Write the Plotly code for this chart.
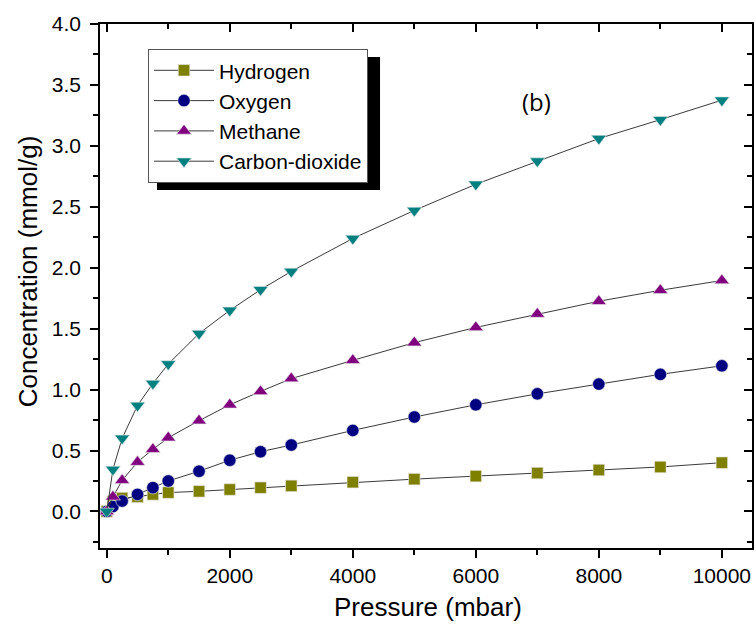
import plotly.graph_objects as go

pressure = [0, 100, 250, 500, 750, 1000, 1500, 2000, 2500, 3000, 4000, 5000, 6000, 7000, 8000, 9000, 10000]
hydrogen = [0.0, 0.08, 0.11, 0.12, 0.14, 0.155, 0.165, 0.18, 0.195, 0.21, 0.24, 0.265, 0.29, 0.315, 0.34, 0.365, 0.40]
oxygen = [0.0, 0.04, 0.085, 0.14, 0.195, 0.25, 0.33, 0.42, 0.49, 0.545, 0.665, 0.775, 0.875, 0.965, 1.045, 1.125, 1.195]
methane = [0.0, 0.12, 0.255, 0.405, 0.51, 0.605, 0.745, 0.875, 0.985, 1.09, 1.24, 1.385, 1.51, 1.62, 1.725, 1.815, 1.895]
co2 = [0.0, 0.345, 0.6, 0.87, 1.05, 1.21, 1.46, 1.65, 1.82, 1.97, 2.24, 2.47, 2.685, 2.875, 3.06, 3.215, 3.375]

series = [
    ("Hydrogen", hydrogen, "square", "#808000", 11.5),
    ("Oxygen", oxygen, "circle", "#000080", 12.5),
    ("Methane", methane, "triangle-up", "#800080", 13),
    ("Carbon-dioxide", co2, "triangle-down", "#008080", 13),
]

FONT = "Liberation Sans, Arial, sans-serif"
X_RANGE = [-110, 10490]
Y_RANGE = [-0.3, 4.0]

fig = go.Figure()
for name, vals, sym, col, sz in series:
    fig.add_trace(go.Scatter(
        x=pressure, y=vals, name=name, mode="lines+markers",
        line=dict(color="#3a3a3a", width=1),
        marker=dict(symbol=sym, color=col, size=sz,
                    line=dict(color="rgba(230,230,230,0.8)", width=0.8)),
    ))

# transparent copy on the mirrored axes so the inward-tick frame renders
fig.add_trace(go.Scatter(x=pressure, y=co2, xaxis="x2", yaxis="y2", mode="markers",
                         marker=dict(opacity=0), showlegend=False, hoverinfo="skip"))

axis_common = dict(showline=True, linecolor="black", linewidth=1.5, automargin=False,
                   showgrid=False, zeroline=False, tickcolor="black", tickwidth=1.5)

fig.update_layout(
    width=756, height=633,
    margin=dict(l=100, r=4, t=24, b=85),
    paper_bgcolor="white", plot_bgcolor="white",
    font=dict(family=FONT, color="black"),
    xaxis=dict(range=X_RANGE, dtick=2000, tick0=0, ticks="outside", ticklen=8,
               tickformat="d", exponentformat="none",
               minor=dict(dtick=1000, tick0=0, ticks="outside", ticklen=5,
                          tickcolor="black", tickwidth=1.5),
               tickfont=dict(size=21, family=FONT),
               **axis_common),
    yaxis=dict(range=Y_RANGE, dtick=0.5, tick0=0, ticks="outside", ticklen=8,
               tickformat=".1f", ticklabelstandoff=5,
               minor=dict(dtick=0.25, tick0=0, ticks="outside", ticklen=5,
                          tickcolor="black", tickwidth=1.5),
               tickfont=dict(size=21, family=FONT),
               **axis_common),
    xaxis2=dict(range=X_RANGE, overlaying="x", side="top",
                dtick=2000, tick0=0, ticks="inside", ticklen=8, showticklabels=False,
                minor=dict(dtick=1000, tick0=0, ticks="inside", ticklen=5,
                           tickcolor="black", tickwidth=1.5),
                **axis_common),
    yaxis2=dict(range=Y_RANGE, overlaying="y", side="right",
                dtick=0.5, tick0=0, ticks="inside", ticklen=8, showticklabels=False,
                minor=dict(dtick=0.25, tick0=0, ticks="inside", ticklen=5,
                           tickcolor="black", tickwidth=1.5),
                **axis_common),
    legend=dict(x=0.0736, y=0.952, xanchor="left", yanchor="top",
                bgcolor="white", bordercolor="#555", borderwidth=1,
                font=dict(size=21, family=FONT), itemwidth=60,
                tracegroupgap=0),
    showlegend=True,
)

# legend drop shadow
fig.add_shape(type="rect", xref="paper", yref="paper",
              x0=0.0874, x1=0.4295, y0=0.683, y1=0.937,
              fillcolor="black", line=dict(width=0), layer="above")

fig.add_annotation(text="(b)", xref="paper", yref="paper", x=0.669, y=0.853,
                   xanchor="center", yanchor="middle",
                   showarrow=False, font=dict(size=24, family="Open Sans, sans-serif"))
fig.add_annotation(text="Pressure (mbar)", xref="paper", yref="paper",
                   x=0.503, y=-0.1126, xanchor="center", yanchor="middle",
                   showarrow=False, font=dict(size=26, family=FONT))
fig.add_annotation(text="Concentration (mmol/g)", xref="paper", yref="paper",
                   x=-0.110, y=0.5286, xanchor="center", yanchor="middle",
                   showarrow=False, textangle=-90,
                   font=dict(size=26, family=FONT))

fig.write_html("out.html", config={"displayModeBar": False},
               post_script="document.body.style.margin='0';document.body.style.overflow='hidden';")
